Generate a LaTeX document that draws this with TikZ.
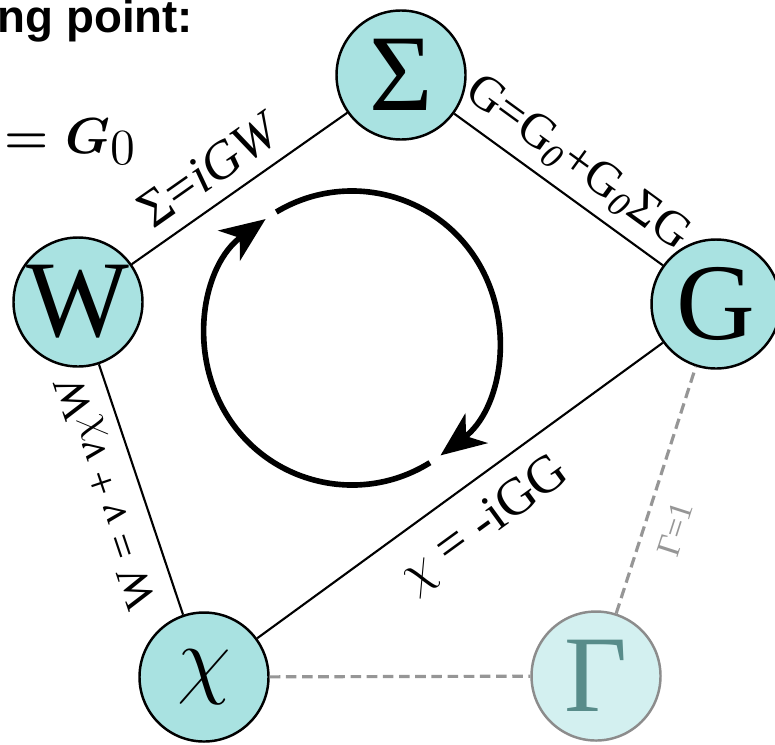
\documentclass[tikz,border=0pt]{standalone}
\usepackage{amsmath}
\usepackage{fontspec}
\setmainfont{Liberation Serif}
\newfontfamily\headsans{Liberation Sans}
\usetikzlibrary{arrows.meta, calc}
\definecolor{myteal}{RGB}{169,226,225}
\definecolor{myfade}{RGB}{211,240,240}
\definecolor{myfadetext}{RGB}{88,140,138}
\definecolor{myfadeline}{RGB}{140,140,140}
\definecolor{mygray}{RGB}{150,150,150}
\tikzset{
  qnode/.style={circle, draw=black, fill=myteal, minimum size=1.29cm,
    inner sep=0pt, line width=0.7pt, font=\fontsize{31}{31}\selectfont},
  fadenode/.style={qnode, draw=myfadeline, fill=myfade, text=myfadetext},
  link/.style={line width=0.6pt, color=black},
  fadelink/.style={dash pattern=on 3pt off 1.6pt, line width=0.9pt, color=mygray},
  cyclearrow/.style={-{Stealth[length=4.5mm, width=3.7mm, inset=1.3mm]}, line width=1.6pt},
  eqlabel/.style={sloped, inner sep=1pt, font=\fontsize{15}{15}\selectfont}
}

\begin{document}
\begin{tikzpicture}
  \useasboundingbox (0,0) rectangle (7.75,7.44);

  % Heading (cut at the left edge)
  \node[anchor=base west, inner sep=0pt,
    font=\headsans\bfseries\fontsize{13}{13}\selectfont] (head) at (-0.03, 7.11) {ng point:};
  \node[anchor=base west, inner sep=0pt, font=\fontsize{15}{15}\selectfont] (start) at (0.04, 5.91)
    {$\boldsymbol{= G}$\raisebox{-3.4pt}{\fontsize{13.5}{13.5}\selectfont$0$}};

  % Quantities
  \node[qnode] (S) at (4.01, 6.69) {Σ};
  \node[qnode] (W) at (0.78, 4.42) {W};
  \node[qnode] (G) at (7.16, 4.40) {G};
  \node[qnode] (chi) at (2.04, 0.67) {$\chi$};
  \node[fadenode] (Gam) at (5.96, 0.68) {Γ};

  % Equations on the links
  \draw[link] (W) -- node[eqlabel, above=3pt, pos=0.45] {Σ=\textit{iGW}} (S);
  \draw[link] (S) -- node[eqlabel, above=2pt, pos=0.5, font=\fontsize{14}{14}\selectfont]
    {G=G$_{\textit{0}}$+G$_{\textit{0}}$ΣG} (G);
  \draw[link] (chi) -- node[eqlabel, below=4.5pt, pos=0.5] {$\chi$ = -iGG} (G);
  \draw[link] (chi) -- node[eqlabel, allow upside down, above=2.4pt, pos=0.53,
    font=\fontsize{12.5}{12.5}\selectfont] {W = \textit{v} + \textit{v}$\chi$W} (W);

  % Vertex links (faded)
  \draw[fadelink] (chi) -- (Gam);
  \draw[fadelink] (Gam) -- node[eqlabel, below=4pt, pos=0.38, text=mygray,
    font=\fontsize{9.5}{9.5}\selectfont] {Γ=1} (G);

  % Self-consistency cycle
  \coordinate (cyc) at (3.52, 4.06);
  \draw[cyclearrow] ($(cyc)+(121:1.47)$) arc[start angle=121, end angle=-53, radius=1.47];
  \draw[cyclearrow] ($(cyc)+(-58:1.47)$) arc[start angle=-58, end angle=-234, radius=1.47];
\end{tikzpicture}
\end{document}
